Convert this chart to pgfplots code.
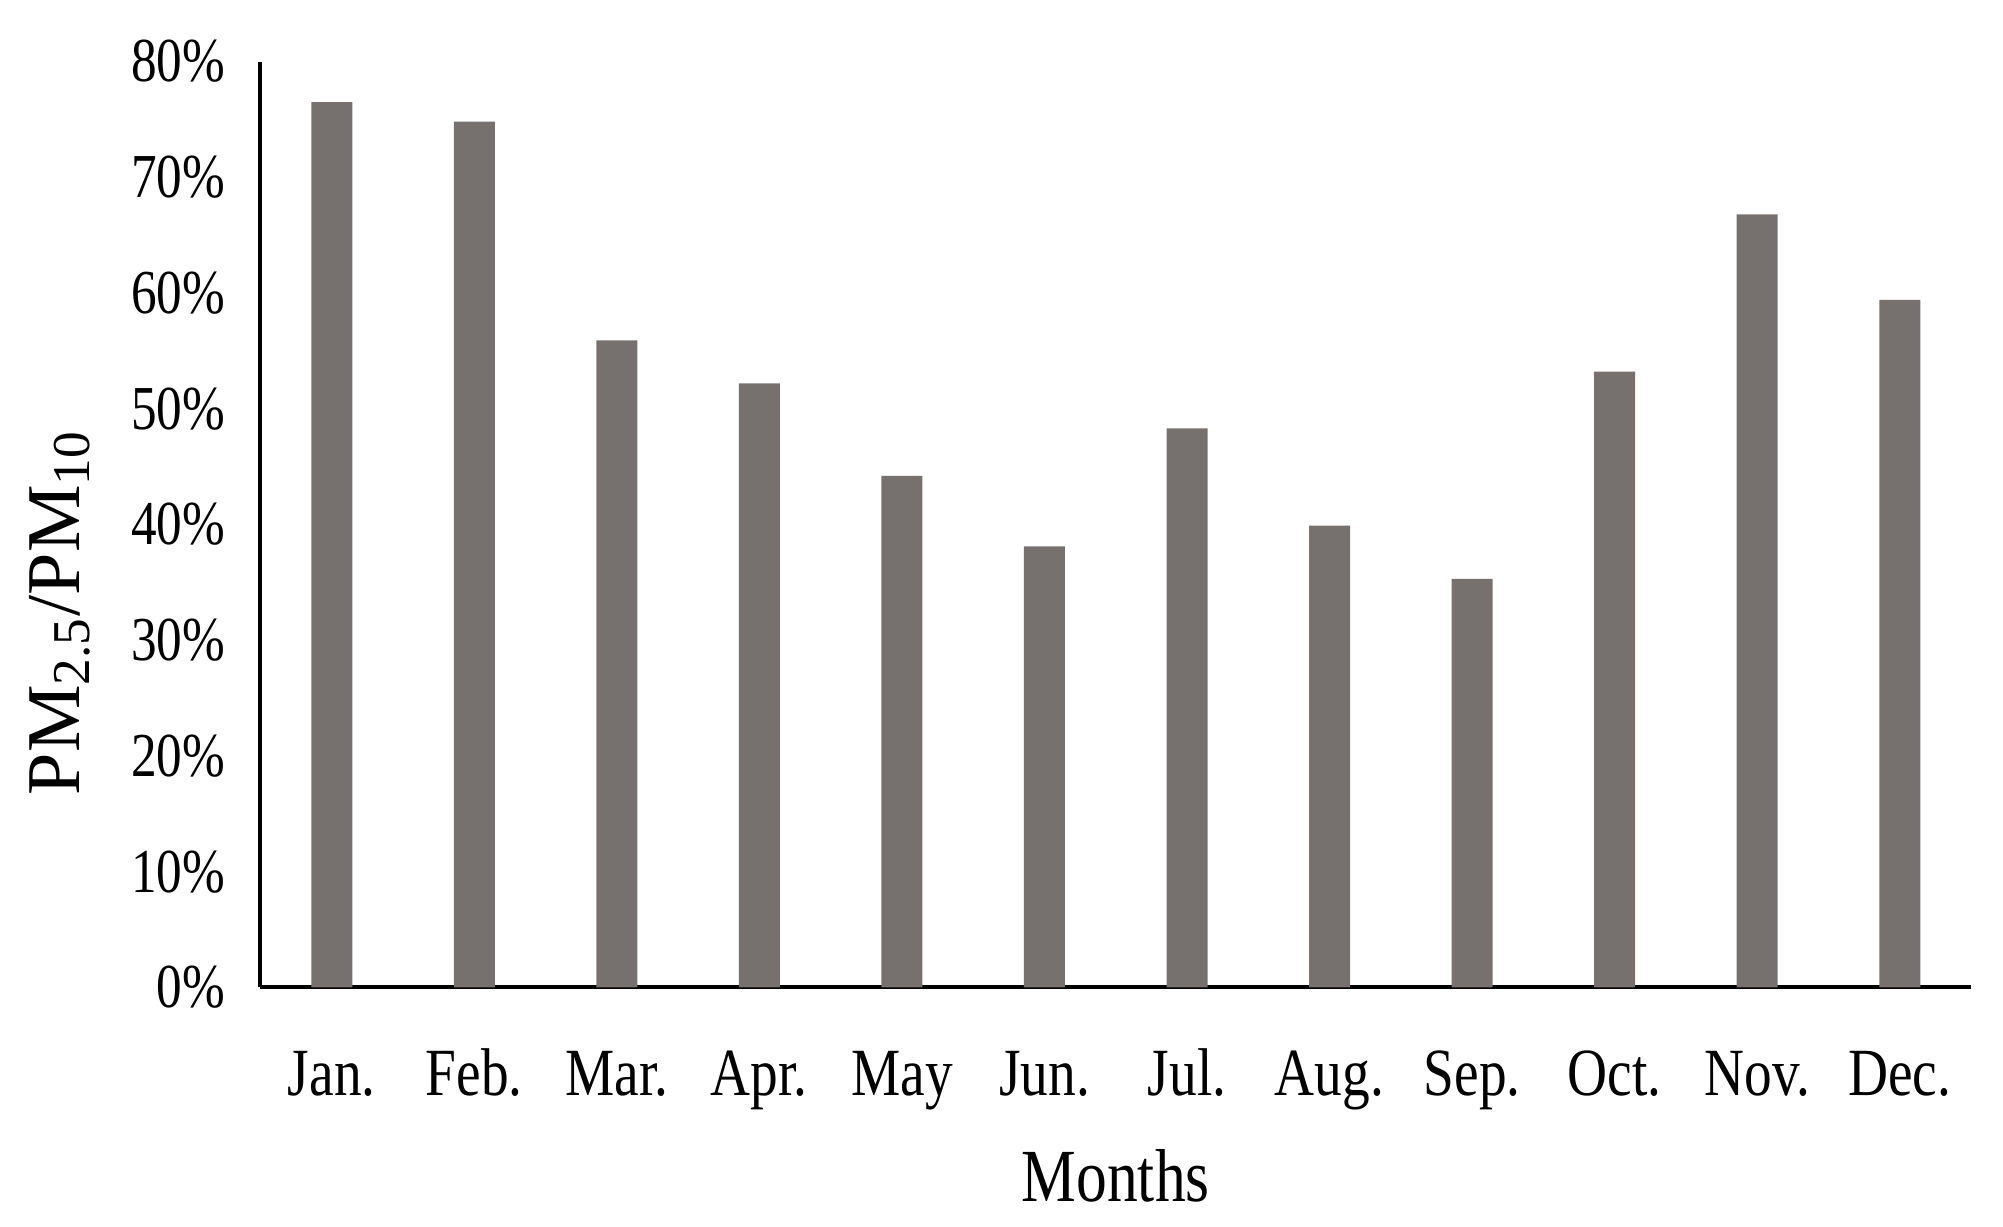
\documentclass[border=0pt]{standalone}
\usepackage{fontspec}
\setmainfont{Liberation Serif}[FakeStretch=0.82]
\newfontfamily\ylfont{Liberation Serif}
\usepackage{pgfplots}
\pgfplotsset{compat=1.18}
\definecolor{barc}{RGB}{118,113,111}
\begin{document}
\begin{tikzpicture}
\useasboundingbox (-52.1pt,-47.9pt) rectangle (348.5pt,197.5pt);
\begin{axis}[
  at={(0,0)}, anchor=south west,
  scale only axis, width=342.1pt, height=185.2pt,
  xmin=-0.5, xmax=11.5, ymin=0, ymax=80,
  axis x line=bottom, axis y line=left,
  axis line style={-, line width=0.8pt, black},
  xtick={0,...,11},
  xticklabels={Jan.,Feb.,Mar.,Apr.,May,Jun.,Jul.,Aug.,Sep.,Oct.,Nov.,Dec.},
  ytick={0,10,...,80},
  major tick length=0pt,
  yticklabel={\pgfmathprintnumber{\tick}\%},
  /pgf/number format/assume math mode=true,
  yticklabel style={font=\fontsize{12.5}{15}\selectfont, anchor=east, inner sep=0pt, xshift=-6.9pt},
  xticklabel style={font=\fontsize{13.5}{16}\selectfont, anchor=base, inner sep=0pt, yshift=-21.5pt},
  xlabel={Months},
  xlabel style={font=\fontsize{15}{18}\selectfont, at={(axis description cs:0.5,0)}, anchor=base, inner sep=0pt, yshift=-42.7pt},
  ylabel={PM\textsubscript{2.5}/PM\textsubscript{10}},
  ylabel style={font=\ylfont\fontsize{15.2}{18}\selectfont, at={(axis description cs:-0.106,0.405)}, anchor=base, inner sep=0pt},
  ybar, bar width=8.2pt, bar shift=0pt,
  clip=false,
]
\addplot[fill=barc, draw=none] coordinates {
  (0,76.5) (1,74.8) (2,55.9) (3,52.2) (4,44.2) (5,38.1)
  (6,48.3) (7,39.9) (8,35.3) (9,53.2) (10,66.8) (11,59.4)
};
\end{axis}
\end{tikzpicture}
\end{document}
